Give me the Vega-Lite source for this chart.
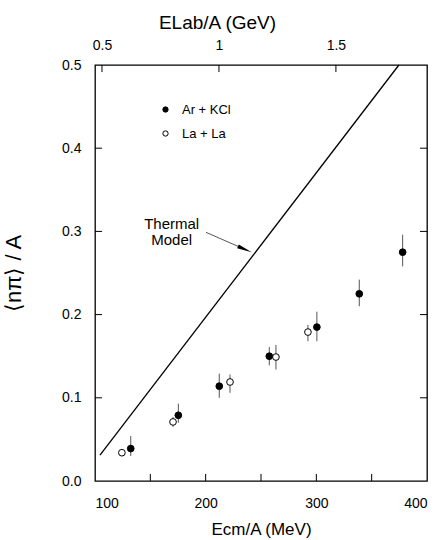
{
  "$schema": "https://vega.github.io/schema/vega-lite/v6.json",
  "width": 332,
  "height": 416,
  "autosize": {"type": "none"},
  "padding": {"left": 95, "top": 65, "right": 19, "bottom": 59},
  "background": "white",
  "config": {
    "font": "Liberation Sans",
    "view": {"stroke": "black", "strokeWidth": 1.3},
    "axis": {
      "grid": false, "domain": false, "ticks": false,
      "labelFont": "Liberation Sans", "labelFontSize": 14, "labelColor": "black",
      "titleFont": "Liberation Sans", "titleFontWeight": "normal", "titleColor": "black"
    }
  },
  "datasets": {
    "pts": [
      {"system": "Ar + KCl", "ecm": 132.3, "y": 0.039, "lo": 0.030, "hi": 0.054},
      {"system": "Ar + KCl", "ecm": 175.3, "y": 0.079, "lo": 0.070, "hi": 0.093},
      {"system": "Ar + KCl", "ecm": 212.3, "y": 0.114, "lo": 0.100, "hi": 0.129},
      {"system": "Ar + KCl", "ecm": 257.5, "y": 0.150, "lo": 0.139, "hi": 0.161},
      {"system": "Ar + KCl", "ecm": 300.5, "y": 0.185, "lo": 0.168, "hi": 0.2035},
      {"system": "Ar + KCl", "ecm": 338.8, "y": 0.225, "lo": 0.210, "hi": 0.242},
      {"system": "Ar + KCl", "ecm": 378.0, "y": 0.275, "lo": 0.258, "hi": 0.296},
      {"system": "La + La", "ecm": 124.3, "y": 0.034, "lo": 0.030, "hi": 0.037},
      {"system": "La + La", "ecm": 170.5, "y": 0.071, "lo": 0.065, "hi": 0.077},
      {"system": "La + La", "ecm": 222.0, "y": 0.119, "lo": 0.106, "hi": 0.128},
      {"system": "La + La", "ecm": 263.5, "y": 0.149, "lo": 0.134, "hi": 0.1635},
      {"system": "La + La", "ecm": 292.4, "y": 0.179, "lo": 0.168, "hi": 0.1875}
    ],
    "thermal": [
      {"ecm": 104.5, "y": 0.031},
      {"ecm": 374.6, "y": 0.5}
    ],
    "arrow": [
      {"ecm": 200.3, "y": 0.2989, "ecm2": 237.0, "y2": 0.2775}
    ],
    "arrowhead": [
      {"ecm": 235.4, "y": 0.2784}
    ],
    "labels": [
      {"ecm": 169.3, "y": 0.309, "label": "Thermal"},
      {"ecm": 169.3, "y": 0.2897, "label": "Model"}
    ],
    "tkx": [
      {"pos": 150, "a": 0, "b": 0.0085},
      {"pos": 200, "a": 0, "b": 0.0085},
      {"pos": 250, "a": 0, "b": 0.0085},
      {"pos": 300, "a": 0, "b": 0.0085},
      {"pos": 350, "a": 0, "b": 0.0085},
      {"pos": 106.3, "a": 0.5, "b": 0.4915},
      {"pos": 212.0, "a": 0.5, "b": 0.4915},
      {"pos": 317.7, "a": 0.5, "b": 0.4915}
    ],
    "tky": [
      {"a": 100, "b": 106.3, "pos": 0.1},
      {"a": 100, "b": 106.3, "pos": 0.2},
      {"a": 100, "b": 106.3, "pos": 0.3},
      {"a": 100, "b": 106.3, "pos": 0.4},
      {"a": 400, "b": 393.7, "pos": 0.1},
      {"a": 400, "b": 393.7, "pos": 0.2},
      {"a": 400, "b": 393.7, "pos": 0.3},
      {"a": 400, "b": 393.7, "pos": 0.4}
    ],
    "elabticks": [
      {"elab": 0.5}, {"elab": 1.0}, {"elab": 1.5}
    ]
  },
  "resolve": {"scale": {"x": "independent"}, "axis": {"x": "independent"}},
  "layer": [
    {
      "layer": [
        {
          "data": {"name": "thermal"},
          "mark": {"type": "line", "color": "black", "strokeWidth": 1.3},
          "encoding": {
            "x": {"field": "ecm", "type": "quantitative",
              "scale": {"domain": [100, 400], "nice": false},
              "axis": {"orient": "bottom", "values": [100, 200, 300, 400],
                "labelPadding": 15, "title": "Ecm/A (MeV)", "titleFontSize": 17, "titlePadding": 11}},
            "y": {"field": "y", "type": "quantitative",
              "scale": {"domain": [0, 0.5], "nice": false},
              "axis": {"orient": "left", "values": [0, 0.1, 0.2, 0.3, 0.4, 0.5], "format": ".1f",
                "labelPadding": 14, "title": "⟨nπ⟩ / A", "titleFontSize": 22, "titleX": -70, "titleY": 208}}
          }
        },
        {
          "data": {"name": "tkx"},
          "mark": {"type": "rule", "color": "black", "strokeWidth": 1},
          "encoding": {
            "x": {"field": "pos", "type": "quantitative"},
            "y": {"field": "a", "type": "quantitative"},
            "y2": {"field": "b"}
          }
        },
        {
          "data": {"name": "tky"},
          "mark": {"type": "rule", "color": "black", "strokeWidth": 1},
          "encoding": {
            "x": {"field": "a", "type": "quantitative"},
            "x2": {"field": "b"},
            "y": {"field": "pos", "type": "quantitative"}
          }
        },
        {
          "data": {"name": "pts"},
          "mark": {"type": "rule", "color": "#555", "strokeWidth": 1},
          "encoding": {
            "x": {"field": "ecm", "type": "quantitative"},
            "y": {"field": "lo", "type": "quantitative"},
            "y2": {"field": "hi"}
          }
        },
        {
          "data": {"name": "pts"},
          "mark": {"type": "point", "shape": "circle", "filled": true, "stroke": "black", "strokeWidth": 1, "size": 45, "opacity": 1},
          "encoding": {
            "x": {"field": "ecm", "type": "quantitative"},
            "y": {"field": "y", "type": "quantitative"},
            "fill": {"field": "system", "type": "nominal",
              "scale": {"domain": ["Ar + KCl", "La + La"], "range": ["black", "white"]},
              "legend": {"orient": "none", "legendX": 64, "legendY": 38, "title": null,
                "symbolSize": 28, "symbolStrokeColor": "black", "symbolStrokeWidth": 1,
                "labelFontSize": 13, "labelFont": "Liberation Sans", "labelColor": "black",
                "labelOffset": 10, "rowPadding": 10, "padding": 0}}
          }
        },
        {
          "data": {"name": "arrow"},
          "mark": {"type": "rule", "color": "#444", "strokeWidth": 0.9},
          "encoding": {
            "x": {"field": "ecm", "type": "quantitative"},
            "y": {"field": "y", "type": "quantitative"},
            "x2": {"field": "ecm2"},
            "y2": {"field": "y2"}
          }
        },
        {
          "data": {"name": "arrowhead"},
          "mark": {"type": "point", "shape": "M1,0L-1,-0.28L-1,0.28Z", "filled": true, "color": "black", "size": 225, "angle": 23.5, "opacity": 1},
          "encoding": {
            "x": {"field": "ecm", "type": "quantitative"},
            "y": {"field": "y", "type": "quantitative"}
          }
        },
        {
          "data": {"name": "labels"},
          "mark": {"type": "text", "font": "Liberation Sans", "fontSize": 15, "align": "center", "baseline": "middle", "color": "black"},
          "encoding": {
            "x": {"field": "ecm", "type": "quantitative"},
            "y": {"field": "y", "type": "quantitative"},
            "text": {"field": "label"}
          }
        }
      ]
    },
    {
      "data": {"name": "elabticks"},
      "mark": {"type": "point", "opacity": 0},
      "encoding": {
        "x": {"field": "elab", "type": "quantitative",
          "scale": {"domain": [0.4702, 1.8893], "nice": false, "zero": false},
          "axis": {"orient": "top", "values": [0.5, 1, 1.5], "format": "~g", "labelPadding": 13,
            "title": "ELab/A (GeV)", "titleFontSize": 19, "titleX": 122, "titlePadding": 6}}
      }
    }
  ]
}
